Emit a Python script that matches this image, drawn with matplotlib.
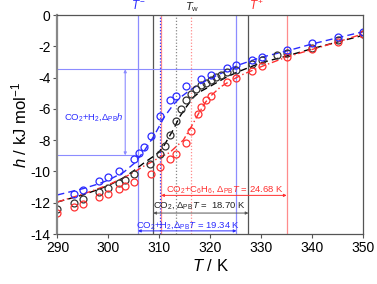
import matplotlib
matplotlib.use("Agg")
import matplotlib.pyplot as plt

plt.rcParams['font.family'] = ['Liberation Sans', 'DejaVu Sans']
plt.rcParams['mathtext.fontset'] = 'custom'
plt.rcParams['mathtext.rm'] = 'Liberation Sans'
plt.rcParams['mathtext.it'] = 'Liberation Sans:italic'
plt.rcParams['mathtext.bf'] = 'Liberation Sans:bold'

# ---- data: CO2+H2 (blue) ----
T_blue = [293.2, 295.1, 298.2, 300.0, 302.1, 305.0, 306.0, 307.0, 308.3, 310.1,
          312.1, 313.3, 315.2, 318.2, 320.2, 323.2, 325.1, 328.1, 330.2, 335.1,
          340.0, 345.1, 350.0]
h_blue = [-11.45, -11.2, -10.6, -10.35, -9.97, -9.2, -8.85, -8.42, -7.73, -6.45,
          -5.45, -5.15, -4.55, -4.1, -3.84, -3.4, -3.17, -2.86, -2.66, -2.22,
          -1.81, -1.42, -1.07]
# ---- data: CO2 (black) ----
T_black = [290.0, 293.2, 295.1, 298.2, 300.0, 302.1, 303.3, 305.0, 308.2, 310.1,
           311.1, 312.1, 313.3, 314.2, 315.2, 316.2, 317.2, 318.2, 319.2, 320.2,
           321.2, 322.2, 323.2, 325.1, 328.1, 330.2, 333.2, 335.1, 340.0, 345.1,
           350.0]
h_black = [-12.37, -12.0, -11.76, -11.3, -11.08, -10.76, -10.55, -10.19, -9.5, -8.87,
           -8.4, -7.7, -6.75, -6.0, -5.4, -5.05, -4.75, -4.5, -4.33, -4.15,
           -3.98, -3.85, -3.62, -3.5, -3.12, -2.9, -2.58, -2.43, -2.1, -1.6,
           -1.2]
# ---- data: CO2+C6H6 (red) ----
T_red = [290.0, 293.2, 295.1, 298.2, 300.0, 302.1, 303.3, 305.0, 308.3, 310.1,
         312.1, 313.3, 315.2, 316.2, 317.5, 318.2, 319.2, 320.2, 323.2, 325.1,
         328.1, 330.2, 335.1, 340.0, 345.1, 350.0]
h_red = [-12.65, -12.3, -12.08, -11.66, -11.45, -11.15, -10.93, -10.66, -10.19, -9.72,
         -9.2, -8.87, -8.18, -7.4, -6.35, -5.9, -5.43, -5.16, -4.3, -4.0,
         -3.6, -3.25, -2.7, -2.2, -1.72, -1.2]

# fitted curves
Tc_blue = [290, 295, 298, 300, 303, 305, 307, 309, 310, 311, 312.7, 314, 316, 318, 320,
           323, 325.5, 330, 335, 340, 345, 350]
hc_blue = [-11.5, -11.1, -10.8, -10.55, -10.05, -9.5, -8.7, -7.7, -7.1, -6.5, -5.75,
           -5.3, -4.8, -4.4, -4.05, -3.6, -3.2, -2.7, -2.3, -1.85, -1.45, -1.07]
Tc_black = [290, 295, 298, 300, 303, 305, 307, 309, 310, 311, 312.7, 314, 315, 316.7,
            318, 320, 323, 325.5, 330, 335, 340, 345, 350]
hc_black = [-11.95, -11.5, -11.15, -10.9, -10.4, -9.95, -9.45, -9.0, -8.75, -8.3, -7.35,
            -6.5, -6.0, -5.25, -4.9, -4.55, -4.0, -3.62, -3.05, -2.62, -2.15, -1.72, -1.3]
Tc_red = [290, 295, 298, 300, 303, 305, 307, 309, 310, 312, 313, 314.7, 316, 317.7,
          319, 320, 322, 324, 326, 330, 335, 340, 345, 350]
hc_red = [-11.95, -11.45, -11.1, -10.85, -10.4, -10.05, -9.65, -9.3, -9.1, -8.8, -8.5,
          -8.0, -7.3, -6.3, -5.6, -5.2, -4.6, -4.2, -3.85, -3.3, -2.68, -2.2, -1.72, -1.2]

# characteristic temperatures
Tm_blue, Tw_blue, Tp_blue = 305.8, 310.15, 325.15
Tm_black, Tw_black, Tp_black = 308.8, 313.3, 327.5
Tm_red, Tw_red, Tp_red = 310.35, 316.2, 335.0
h_top_blue, h_bot_blue = -3.47, -8.97

xticks = [290, 300, 310, 320, 330, 340, 350]
yticks = [0, -2, -4, -6, -8, -10, -12, -14]

BLUE = '#2b2bff'
BLK = '#333333'
RED = '#ff3030'
LBLUE = '#8c8cff'
LRED = '#ff8c8c'
GREY = '#555555'

fig = plt.figure(figsize=(3.77, 2.84), dpi=100)
ax = fig.add_axes([0.1525, 0.176, 0.8105, 0.771])

# vertical reference lines
ax.axvline(Tm_blue, color=LBLUE, lw=0.9)
ax.axvline(Tp_blue, color=LBLUE, lw=0.9)
ax.axvline(Tm_black, color=GREY, lw=0.9)
ax.axvline(Tp_black, color=GREY, lw=0.9)
ax.axvline(Tm_red, color=LRED, lw=0.9)
ax.axvline(Tp_red, color=LRED, lw=0.9)
ax.axvline(Tw_blue, color=BLUE, lw=0.9, ls=(0, (1, 1.5)))
ax.axvline(Tw_black, color='#888888', lw=0.9, ls=(0, (1, 1.5)))
ax.axvline(Tw_red, color=LRED, lw=0.9, ls=(0, (1, 1.5)))

# horizontal reference lines
ax.plot([290, Tp_blue], [h_top_blue, h_top_blue], color=LBLUE, lw=0.8)
ax.plot([290, Tm_blue], [h_bot_blue, h_bot_blue], color=LBLUE, lw=0.8)

# curves
ax.plot(Tc_blue, hc_blue, color=BLUE, lw=1.0, ls=(0, (5, 3)))
ax.plot(Tc_black, hc_black, color='black', lw=1.0, ls=(0, (5, 3)))
ax.plot(Tc_red, hc_red, color=RED, lw=1.0, ls=(0, (5, 2, 1, 2)))

# points
mk = dict(marker='o', ls='none', mfc='none', ms=5, mew=0.9)
ax.plot(T_black, h_black, mec=BLK, **mk)
ax.plot(T_red, h_red, mec=RED, **mk)
ax.plot(T_blue, h_blue, mec=BLUE, **mk)

# arrows
def darrow(x0, x1, y, c):
    ax.annotate('', xy=(x1, y), xytext=(x0, y),
                arrowprops=dict(arrowstyle='<|-|>', color=c, lw=0.7,
                                mutation_scale=4, shrinkA=0, shrinkB=0))

darrow(Tm_red, Tp_red, -11.53, RED)
darrow(Tm_black, Tp_black, -12.66, GREY)
darrow(Tm_blue, Tp_blue, -13.8, BLUE)
ax.annotate('', xy=(303.3, h_top_blue), xytext=(303.3, h_bot_blue),
            arrowprops=dict(arrowstyle='<|-|>', color=LBLUE, lw=0.8,
                            mutation_scale=4, shrinkA=0, shrinkB=0))

fs = 6.8
ax.text(322.9, -11.17, r'CO$_2$+C$_6$H$_6$, $\Delta_{\rm PB}T$ = 24.68 K',
        color=RED, fontsize=fs, ha='center', va='center')
ax.text(317.8, -12.15, r'CO$_2$, $\Delta_{\rm PB}T$ =  18.70 K',
        color='#222222', fontsize=fs, ha='center', va='center')
ax.text(315.7, -13.43, r'CO$_2$+H$_2$,$\Delta_{\rm PB}T$ = 19.34 K',
        color=BLUE, fontsize=fs, ha='center', va='center')
ax.text(297.2, -6.52, r'CO$_2$+H$_2$,$\Delta_{\rm PB}h$',
        color=BLUE, fontsize=fs, ha='center', va='center')

ax.text(Tm_blue, 0.6, r'$T^{-}$', color=BLUE, fontsize=8.5, ha='center', va='center',
        clip_on=False)
ax.text(316.4, 0.08, r'$T_{\rm w}$', color='#222222', fontsize=8, ha='center',
        va='bottom', clip_on=False)
ax.text(329.1, 0.6, r'$T^{+}$', color=RED, fontsize=8.5, ha='center', va='center',
        clip_on=False)

ax.set_xlim(290, 350)
ax.set_ylim(-14, 0)
ax.set_xticks(xticks)
ax.set_yticks(yticks)
ax.set_xticklabels([str(v) for v in xticks], fontsize=10)
ax.set_yticklabels([str(v) for v in yticks], fontsize=10)
ax.tick_params(direction='out', length=3, width=0.8, color='#555555', pad=2)
for s in ax.spines.values():
    s.set_color('#555555')
    s.set_linewidth(0.9)
ax.spines['left'].set_color('#888888')
ax.spines['left'].set_linewidth(1.6)

ax.set_xlabel(r'$T$ / K', fontsize=12, labelpad=2)
ax.set_ylabel(r'$h$ / kJ mol$^{-1}$', fontsize=12, labelpad=1)

fig.savefig('out.png', dpi=100)
